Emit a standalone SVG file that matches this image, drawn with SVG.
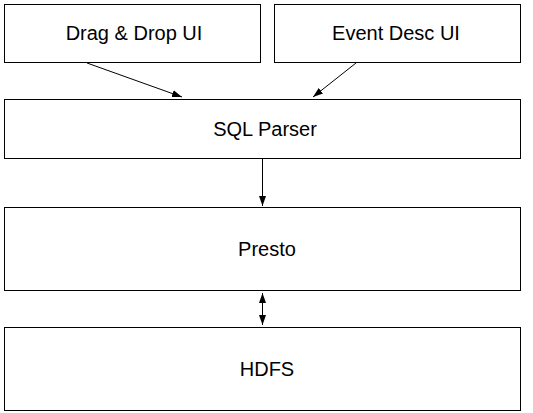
<svg xmlns="http://www.w3.org/2000/svg" width="533" height="413" viewBox="0 0 533 413">
<style>
rect{fill:#fff;stroke:#000;stroke-width:1}
text{font-family:"Liberation Sans",Arial,sans-serif;font-size:20px;fill:#000;text-anchor:middle}
.c{stroke:#000;stroke-width:1;fill:none}
</style>
<defs>
<marker id="ah" viewBox="0 0 10 10" refX="10" refY="5" markerWidth="10" markerHeight="10" markerUnits="userSpaceOnUse" orient="auto-start-reverse">
<path d="M0,1.5 L10,5 L0,8.5 z" fill="#000"/>
</marker>
</defs>
<rect x="0" y="0" width="533" height="413" style="stroke:none"/>
<g id="dragdrop"><rect x="4.5" y="4.5" width="256" height="58"/><text x="134" y="40">Drag &amp; Drop UI</text></g>
<g id="eventdesc"><rect x="274.5" y="4.5" width="246" height="58"/><text x="396" y="40">Event Desc UI</text></g>
<g id="sqlparser"><rect x="4.5" y="99.5" width="516" height="59"/><text x="265" y="136">SQL Parser</text></g>
<g id="presto"><rect x="4.5" y="207.5" width="516" height="83"/><text x="267" y="256">Presto</text></g>
<g id="hdfs"><rect x="4.5" y="327.5" width="516" height="83"/><text x="267" y="376">HDFS</text></g>
<g id="connectors">
<line class="c" x1="87" y1="63" x2="182" y2="97" marker-end="url(#ah)"/>
<line class="c" x1="356" y1="63" x2="313" y2="97" marker-end="url(#ah)"/>
<line class="c" x1="262.5" y1="159" x2="262.5" y2="206" marker-end="url(#ah)"/>
<line class="c" x1="262.5" y1="293" x2="262.5" y2="325" marker-start="url(#ah)" marker-end="url(#ah)"/>
</g>
</svg>
